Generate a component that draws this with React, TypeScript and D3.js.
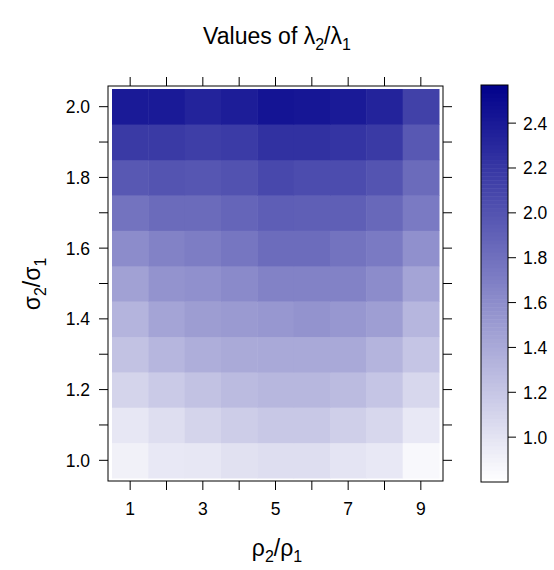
import React from "react";
import * as d3 from "d3";

const xCats = [1, 2, 3, 4, 5, 6, 7, 8, 9];
const yCats = [1.0, 1.1, 1.2, 1.3, 1.4, 1.5, 1.6, 1.7, 1.8, 1.9, 2.0];
const xTickLabels = [1, 3, 5, 7, 9];
const yTickLabels = [1.0, 1.2, 1.4, 1.6, 1.8, 2.0];
const keyTicks = [1.0, 1.2, 1.4, 1.6, 1.8, 2.0, 2.2, 2.4];
// values[row][col], row by yCats, col by xCats
const values = [
  [0.9, 0.96, 0.97, 1.01, 1.03, 1.03, 0.99, 0.96, 0.85],
  [0.97, 1.03, 1.1, 1.15, 1.18, 1.18, 1.13, 1.08, 0.96],
  [1.1, 1.17, 1.22, 1.27, 1.3, 1.3, 1.27, 1.2, 1.08],
  [1.22, 1.31, 1.36, 1.39, 1.4, 1.4, 1.4, 1.32, 1.2],
  [1.32, 1.43, 1.48, 1.5, 1.52, 1.55, 1.52, 1.47, 1.31],
  [1.45, 1.55, 1.57, 1.61, 1.67, 1.67, 1.67, 1.6, 1.43],
  [1.6, 1.67, 1.7, 1.75, 1.82, 1.82, 1.77, 1.72, 1.57],
  [1.77, 1.83, 1.83, 1.87, 1.92, 1.91, 1.91, 1.85, 1.72],
  [1.96, 1.99, 1.97, 2.0, 2.07, 2.04, 2.04, 1.99, 1.83],
  [2.17, 2.17, 2.14, 2.16, 2.23, 2.23, 2.21, 2.17, 1.96],
  [2.39, 2.39, 2.33, 2.37, 2.43, 2.42, 2.39, 2.33, 2.12],
];
const zMin = 0.8, zMax = 2.57;

export default function App() {
  const x = d3.scaleLinear().domain([0.5, 9.5]).range([112, 439]);
  const y = d3.scaleLinear().domain([0.95, 2.05]).range([478, 89]);
  const color = d3.scaleLinear<string>().domain([zMin, zMax]).range(["#ffffff", "#00008B"]).interpolate(d3.interpolateRgb);
  const ky = d3.scaleLinear().domain([zMin, zMax]).range([482, 85]);
  const nSteps = 100;
  const steps = d3.range(nSteps).map(i => zMin + (i * (zMax - zMin)) / nSteps);
  const font = "Liberation Sans, Arial, sans-serif";
  const px = { l: 108, r: 443, t: 86, b: 481 };
  return (
    <svg width={554} height={570} style={{ position: "absolute", left: 0, top: 0 }} fontFamily={font}>
      <rect width={554} height={570} fill="#fff" />
      <text x={277} y={44} textAnchor="middle" fontSize={23}>
        Values of λ<tspan fontSize={16} dy={6}>2</tspan><tspan dy={-6}>/λ</tspan><tspan fontSize={16} dy={6}>1</tspan>
      </text>
      {values.map((row, i) =>
        row.map((v, j) => (
          <rect key={`${i}-${j}`} x={x(xCats[j] - 0.5)} y={y(yCats[i] + 0.05)}
            width={x(xCats[j] + 0.5) - x(xCats[j] - 0.5) + 0.5} height={y(yCats[i] - 0.05) - y(yCats[i] + 0.05) + 0.5}
            fill={color(v)} />
        ))
      )}
      <rect x={px.l} y={px.t} width={px.r - px.l} height={px.b - px.t} fill="none" stroke="#000" strokeWidth={1} />
      {xCats.map(c => (
        <g key={c}>
          <line x1={x(c)} x2={x(c)} y1={px.b} y2={px.b + 9} stroke="#000" />
          <line x1={x(c)} x2={x(c)} y1={px.t} y2={px.t - 9} stroke="#000" />
        </g>
      ))}
      {xTickLabels.map(c => (
        <text key={c} x={x(c)} y={515} textAnchor="middle" fontSize={17.5}>{c}</text>
      ))}
      {yCats.map(c => (
        <g key={c}>
          <line x1={px.l} x2={px.l - 9} y1={y(c)} y2={y(c)} stroke="#000" />
          <line x1={px.r} x2={px.r + 9} y1={y(c)} y2={y(c)} stroke="#000" />
        </g>
      ))}
      {yTickLabels.map(c => (
        <text key={c} x={90} y={y(c) + 6.5} textAnchor="end" fontSize={17.5}>{c.toFixed(1)}</text>
      ))}
      <text x={277} y={556} textAnchor="middle" fontSize={23}>
        ρ<tspan fontSize={16} dy={6}>2</tspan><tspan dy={-6}>/ρ</tspan><tspan fontSize={16} dy={6}>1</tspan>
      </text>
      <text transform="translate(40,284) rotate(-90)" textAnchor="middle" fontSize={23}>
        σ<tspan fontSize={16} dy={6}>2</tspan><tspan dy={-6}>/σ</tspan><tspan fontSize={16} dy={6}>1</tspan>
      </text>
      {steps.map((s, i) => (
        <rect key={i} x={481} width={27} y={ky(s + (zMax - zMin) / nSteps)} height={ky(s) - ky(s + (zMax - zMin) / nSteps) + 0.5} fill={color(s)} />
      ))}
      <rect x={481} y={85} width={27} height={397} fill="none" stroke="#000" />
      {keyTicks.map(t => (
        <g key={t}>
          <line x1={508} x2={516} y1={ky(t)} y2={ky(t)} stroke="#000" />
          <text x={523} y={ky(t) + 6.5} fontSize={17.5}>{t.toFixed(1)}</text>
        </g>
      ))}
    </svg>
  );
}
